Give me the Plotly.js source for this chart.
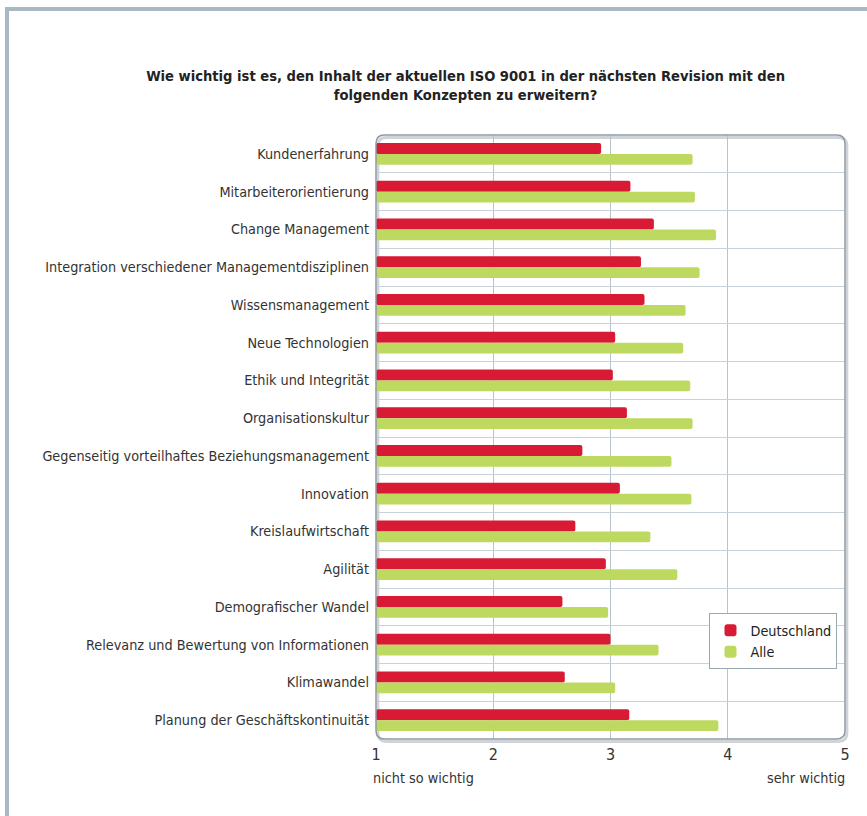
<!DOCTYPE html>
<html><head><meta charset="utf-8">
<script src="https://cdn.plot.ly/plotly-3.0.1.min.js"></script>
<style>
html,body{margin:0;padding:0;background:#fff;}
#wrap{position:relative;width:867px;height:816px;}
#chart{width:867px;height:816px;}
#frame{position:absolute;left:5px;top:7px;right:0;bottom:0;border-top:4px solid #a9b9c1;border-left:4px solid #a9b9c1;pointer-events:none;}
</style></head>
<body>
<div id="wrap"><div id="chart"></div><div id="frame"></div></div>
<script>
const categories = [
  "Kundenerfahrung",
  "Mitarbeiterorientierung",
  "Change Management",
  "Integration verschiedener Managementdisziplinen",
  "Wissensmanagement",
  "Neue Technologien",
  "Ethik und Integrität",
  "Organisationskultur",
  "Gegenseitig vorteilhaftes Beziehungsmanagement",
  "Innovation",
  "Kreislaufwirtschaft",
  "Agilität",
  "Demografischer Wandel",
  "Relevanz und Bewertung von Informationen",
  "Klimawandel",
  "Planung der Geschäftskontinuität"
];
const deutschland = [2.92, 3.17, 3.37, 3.26, 3.29, 3.04, 3.02, 3.14, 2.76, 3.08, 2.70, 2.96, 2.59, 3.00, 2.61, 3.16];
const alle        = [3.70, 3.72, 3.90, 3.76, 3.64, 3.62, 3.68, 3.70, 3.52, 3.69, 3.34, 3.57, 2.98, 3.41, 3.04, 3.92];
const xTicks = [1, 2, 3, 4, 5];
const scaleLow = "nicht so wichtig";
const scaleHigh = "sehr wichtig";
const titleText = "Wie wichtig ist es, den Inhalt der aktuellen ISO 9001 in der nächsten Revision mit den<br>folgenden Konzepten zu erweitern?";

const FONT = "DejaVu Sans Condensed, Liberation Sans Narrow, Arial Narrow, sans-serif";

const traces = [
  {type:'bar', orientation:'h', name:'Deutschland', y:categories, x:deutschland.map(v=>v-1), base:1,
   marker:{color:'#d91a35', cornerradius:2}, hoverinfo:'skip'},
  {type:'bar', orientation:'h', name:'Alle', y:categories, x:alle.map(v=>v-1), base:1,
   marker:{color:'#bed960', cornerradius:2}, hoverinfo:'skip'}
];

const r = 0.018, ry = 0.014;
const rounded = `M ${r} 0 L ${1-r} 0 Q 1 0 1 ${ry} L 1 ${1-ry} Q 1 1 ${1-r} 1 L ${r} 1 Q 0 1 0 ${1-ry} L 0 ${ry} Q 0 0 ${r} 0 Z`;

const layout = {
  width:867, height:816,
  margin:{l:376, r:22, t:135, b:77},
  paper_bgcolor:'#fff', plot_bgcolor:'#fff',
  font:{family:FONT, size:14.3, color:'#333'},
  title:{text:titleText, font:{family:FONT, size:14.6, color:'#222', weight:'bold'},
         xref:'container', x:0.537, xanchor:'center', yref:'container', y:0.901, yanchor:'top'},
  barmode:'group', bargap:0.42, bargroupgap:0,
  showlegend:true,
  legend:{x:0.984, y:0.208, xanchor:'right', yanchor:'top', bgcolor:'#fff', bordercolor:'#9aa8b0', borderwidth:1,
          font:{family:FONT, size:14.3, color:'#222'}, tracegroupgap:4, itemwidth:30},
  xaxis:{range:[1,5], tickvals:xTicks, ticktext:xTicks.map(String), showgrid:true, gridcolor:'#b8c4cc', gridwidth:1,
         zeroline:false, showline:false, ticks:'', ticklabelstandoff:4, tickfont:{size:16, color:'#333'}, fixedrange:true},
  yaxis:{type:'category', autorange:'reversed', tickson:'boundaries', showgrid:true, gridcolor:'#c8d2d8', gridwidth:1,
         ticks:'', ticklabelstandoff:6, showline:false, zeroline:false, fixedrange:true, tickfont:{size:14.3, color:'#333'}},
  shapes:[
    {type:'path', xref:'x domain', yref:'y domain', path:rounded.replace(/(\d\.?\d*) (\d\.?\d*)/g,(m,a,b)=>`${+a+0.004} ${+b-0.004}`),
     line:{color:'rgba(120,130,140,0.35)', width:3}, layer:'below'},
    {type:'path', xref:'x domain', yref:'y domain', path:rounded, line:{color:'#8e9aa2', width:1.5}, layer:'above'}
  ],
  annotations:[
    {text:scaleLow, xref:'x', x:1, yref:'paper', y:0, yshift:-29, xanchor:'left', yanchor:'top', xshift:-5, showarrow:false,
     font:{family:FONT, size:14.3, color:'#333'}},
    {text:scaleHigh, xref:'x', x:5, yref:'paper', y:0, yshift:-29, xanchor:'right', yanchor:'top', xshift:2, showarrow:false,
     font:{family:FONT, size:14.3, color:'#333'}}
  ]
};
Plotly.newPlot('chart', traces, layout, {displayModeBar:false, staticPlot:true});
</script>
</body></html>
